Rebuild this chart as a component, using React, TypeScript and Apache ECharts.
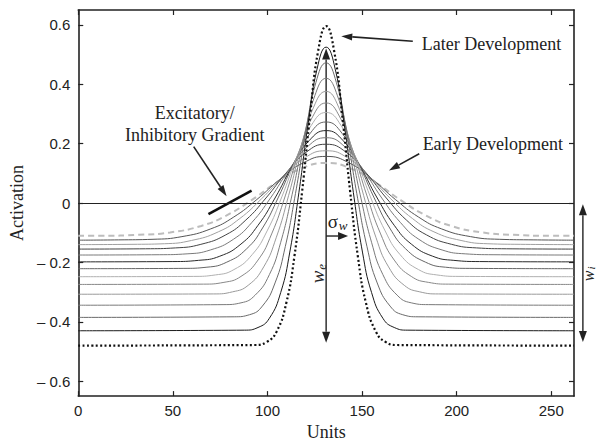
import React, { useEffect, useRef } from 'react';
import * as echarts from 'echarts';

const xTicks = [0, 50, 100, 150, 200, 250];
const yTicks = [-0.6, -0.4, -0.2, 0, 0.2, 0.4, 0.6];

// Activation profiles, from later development (first) to early development (last)
const curveX: number[][] = [
  [0, 93.2, 99.5, 104.8, 110, 114.2, 118.4, 122.6, 126.8, 131, 135.2, 139.4, 143.6, 147.8, 152, 157.3, 162.5, 168.8, 262],
  [0, 87.8, 95, 101, 107, 111.8, 116.6, 121.4, 126.2, 131, 135.8, 140.6, 145.4, 150.2, 155, 161, 167, 174.2, 262],
  [0, 82.4, 90.5, 97.3, 104, 109.4, 114.8, 120.2, 125.6, 131, 136.4, 141.8, 147.2, 152.6, 158, 164.8, 171.5, 179.6, 262],
  [0, 77, 86, 93.5, 101, 107, 113, 119, 125, 131, 137, 143, 149, 155, 161, 168.5, 176, 185, 262],
  [0, 71.6, 81.5, 89.8, 98, 104.6, 111.2, 117.8, 124.4, 131, 137.6, 144.2, 150.8, 157.4, 164, 172.3, 180.5, 190.4, 262],
  [0, 66.2, 77, 86, 95, 102.2, 109.4, 116.6, 123.8, 131, 138.2, 145.4, 152.6, 159.8, 167, 176, 185, 195.8, 262],
  [0, 60.8, 72.5, 82.3, 92, 99.8, 107.6, 115.4, 123.2, 131, 138.8, 146.6, 154.4, 162.2, 170, 179.8, 189.5, 201.2, 262],
  [0, 55.4, 68, 78.5, 89, 97.4, 105.8, 114.2, 122.6, 131, 139.4, 147.8, 156.2, 164.6, 173, 183.5, 194, 206.6, 262],
  [0, 50, 63.5, 74.8, 86, 95, 104, 113, 122, 131, 140, 149, 158, 167, 176, 187.3, 198.5, 212, 262],
  [0, 42.8, 57.5, 69.8, 82, 91.8, 101.6, 111.4, 121.2, 131, 140.8, 150.6, 160.4, 170.2, 180, 192.3, 204.5, 219.2, 262],
  [0, 35.6, 51.5, 64.8, 78, 88.6, 99.2, 109.8, 120.4, 131, 141.6, 152.2, 162.8, 173.4, 184, 197.3, 210.5, 226.4, 262],
  [0, 28.4, 45.5, 59.8, 74, 85.4, 96.8, 108.2, 119.6, 131, 142.4, 153.8, 165.2, 176.6, 188, 202.3, 216.5, 233.6, 262],
  [0, 21.2, 39.5, 54.8, 70, 82.2, 94.4, 106.6, 118.8, 131, 143.2, 155.4, 167.6, 179.8, 192, 207.3, 222.5, 240.8, 262],
  [0, 12.2, 32, 48.5, 65, 78.2, 91.4, 104.6, 117.8, 131, 144.2, 157.4, 170.6, 183.8, 197, 213.5, 230, 249.8, 262],
];

const curveY: number[][] = [
  [-0.48, -0.478, -0.468, -0.433, -0.335, -0.181, 0.044, 0.301, 0.513, 0.596, 0.513, 0.301, 0.044, -0.181, -0.335, -0.433, -0.468, -0.478, -0.48],
  [-0.43, -0.428, -0.419, -0.388, -0.301, -0.165, 0.035, 0.263, 0.451, 0.525, 0.451, 0.263, 0.035, -0.165, -0.301, -0.388, -0.419, -0.428, -0.43],
  [-0.385, -0.383, -0.376, -0.347, -0.269, -0.147, 0.032, 0.237, 0.406, 0.472, 0.406, 0.237, 0.032, -0.147, -0.269, -0.347, -0.376, -0.383, -0.385],
  [-0.344, -0.342, -0.336, -0.31, -0.241, -0.132, 0.028, 0.211, 0.361, 0.42, 0.361, 0.211, 0.028, -0.132, -0.241, -0.31, -0.336, -0.342, -0.344],
  [-0.307, -0.306, -0.299, -0.277, -0.215, -0.117, 0.026, 0.189, 0.323, 0.376, 0.323, 0.189, 0.026, -0.117, -0.215, -0.277, -0.299, -0.306, -0.307],
  [-0.274, -0.273, -0.267, -0.247, -0.192, -0.104, 0.024, 0.17, 0.29, 0.337, 0.29, 0.17, 0.024, -0.104, -0.192, -0.247, -0.267, -0.273, -0.274],
  [-0.248, -0.247, -0.242, -0.224, -0.173, -0.094, 0.021, 0.153, 0.262, 0.305, 0.262, 0.153, 0.021, -0.094, -0.173, -0.224, -0.242, -0.247, -0.248],
  [-0.221, -0.22, -0.216, -0.199, -0.154, -0.084, 0.02, 0.138, 0.235, 0.273, 0.235, 0.138, 0.02, -0.084, -0.154, -0.199, -0.216, -0.22, -0.221],
  [-0.198, -0.197, -0.193, -0.179, -0.138, -0.075, 0.017, 0.123, 0.21, 0.244, 0.21, 0.123, 0.017, -0.075, -0.138, -0.179, -0.193, -0.197, -0.198],
  [-0.175, -0.174, -0.171, -0.158, -0.122, -0.065, 0.017, 0.112, 0.19, 0.22, 0.19, 0.112, 0.017, -0.065, -0.122, -0.158, -0.171, -0.174, -0.175],
  [-0.155, -0.154, -0.151, -0.139, -0.107, -0.057, 0.017, 0.101, 0.171, 0.198, 0.171, 0.101, 0.017, -0.057, -0.107, -0.139, -0.151, -0.154, -0.155],
  [-0.14, -0.139, -0.137, -0.126, -0.097, -0.052, 0.014, 0.089, 0.152, 0.176, 0.152, 0.089, 0.014, -0.052, -0.097, -0.126, -0.137, -0.139, -0.14],
  [-0.125, -0.124, -0.122, -0.113, -0.087, -0.047, 0.012, 0.08, 0.135, 0.157, 0.135, 0.08, 0.012, -0.047, -0.087, -0.113, -0.122, -0.124, -0.125],
  [-0.11, -0.11, -0.107, -0.099, -0.077, -0.042, 0.009, 0.068, 0.116, 0.135, 0.116, 0.068, 0.009, -0.042, -0.077, -0.099, -0.107, -0.11, -0.11],
];

const curveColor = ['#111', '#1a1a1a', '#6a6a6a', '#7a7a7a', '#9a9a9a', '#888', '#b0b0b0', '#666', '#2a2a2a', '#7a7a7a', '#444', '#a0a0a0', '#555', '#bdbdbd'];

const SERIF = '"Liberation Serif", "Times New Roman", serif';
const SANS = '"Liberation Sans", Arial, sans-serif';
const INK = '#222';

function fmtY(v: number) {
  if (Math.abs(v) < 1e-9) return '0';
  if (v < 0) return '\u2013 ' + Math.abs(v).toFixed(1);
  return v.toFixed(1);
}

function arrowHead(h: number[], t: number[], len: number, wid: number) {
  const dx = h[0] - t[0];
  const dy = h[1] - t[1];
  const L = Math.hypot(dx, dy) || 1;
  const ux = dx / L;
  const uy = dy / L;
  const bx = h[0] - ux * len;
  const by = h[1] - uy * len;
  const px = -uy * wid / 2;
  const py = ux * wid / 2;
  return {
    base: [bx, by],
    el: {
      type: 'polygon',
      shape: { points: [[h[0], h[1]], [bx + px, by + py], [bx - px, by - py]] },
      style: { fill: INK },
      silent: true,
    },
  };
}

function arrow(t: number[], h: number[], double = false, lw = 1.5, len = 10, wid = 7) {
  const out: any[] = [];
  const a = arrowHead(h, t, len, wid);
  let start = t;
  if (double) {
    const b = arrowHead(t, h, len, wid);
    start = b.base;
    out.push(b.el);
  }
  out.push({
    type: 'line',
    shape: { x1: start[0], y1: start[1], x2: a.base[0], y2: a.base[1] },
    style: { stroke: INK, lineWidth: lw },
    silent: true,
  });
  out.push(a.el);
  return out;
}

function serifText(text: string, p: number[], size = 18, align = 'left', italic = false) {
  return {
    type: 'text',
    x: p[0],
    y: p[1],
    silent: true,
    style: {
      text,
      fill: INK,
      fontSize: size,
      fontFamily: SERIF,
      fontStyle: italic ? 'italic' : 'normal',
      align,
      verticalAlign: 'middle',
    },
  };
}

export default function App() {
  const ref = useRef<HTMLDivElement>(null);

  useEffect(() => {
    if (!ref.current) return;
    const chart = echarts.init(ref.current, null, { renderer: 'svg' });

    const axisLineStyle = { color: INK, width: 1.6 };
    const series: any[] = [];
    for (let i = curveX.length - 1; i >= 0; i--) {
      const isDotted = i === 0;
      const isDashed = i === curveX.length - 1;
      series.push({
        type: 'line',
        name: 'c' + i,
        data: curveX[i].map((x, j) => [x, curveY[i][j]]),
        symbol: 'none',
        smooth: 0.5,
        clip: true,
        z: 3 + (curveX.length - i),
        lineStyle: {
          color: curveColor[i],
          width: isDotted ? 2.2 : isDashed ? 2 : 1,
          type: isDotted ? [2, 2.4] : isDashed ? [6, 4] : 'solid',
        },
      });
    }
    series.push({
      type: 'line',
      data: [],
      symbol: 'none',
      markLine: {
        silent: true,
        symbol: ['none', 'none'],
        label: { show: false },
        lineStyle: { color: INK, width: 1, type: 'solid' },
        data: [{ yAxis: 0 }],
      },
    });

    const option: any = {
      animation: false,
      backgroundColor: '#fff',
      grid: { left: 76, right: 26, top: 10, bottom: 43 },
      xAxis: [
        {
          type: 'value', min: 0, max: 262, position: 'bottom',
          axisLine: { show: true, onZero: false, lineStyle: axisLineStyle },
          axisTick: { show: true, inside: true, length: 5, customValues: xTicks, lineStyle: { color: INK, width: 1.2 } },
          axisLabel: { customValues: xTicks, color: INK, fontSize: 15, fontFamily: SANS, margin: 7 },
          splitLine: { show: false },
          name: 'Units', nameLocation: 'middle', nameGap: 24,
          nameTextStyle: { color: INK, fontSize: 18, fontFamily: SERIF },
        },
        {
          type: 'value', min: 0, max: 262, position: 'top',
          axisLine: { show: true, onZero: false, lineStyle: axisLineStyle },
          axisTick: { show: true, inside: true, length: 5, customValues: xTicks, lineStyle: { color: INK, width: 1.2 } },
          axisLabel: { show: false },
          splitLine: { show: false },
        },
      ],
      yAxis: [
        {
          type: 'value', min: -0.65, max: 0.65, position: 'left',
          axisLine: { show: true, onZero: false, lineStyle: axisLineStyle },
          axisTick: { show: true, inside: true, length: 5, customValues: yTicks, lineStyle: { color: INK, width: 1.2 } },
          axisLabel: { customValues: yTicks, color: INK, fontSize: 15, fontFamily: SANS, margin: 8, formatter: fmtY },
          splitLine: { show: false },
          name: 'Activation', nameLocation: 'middle', nameGap: 48, nameRotate: 90,
          nameTextStyle: { color: INK, fontSize: 18, fontFamily: SERIF },
        },
        {
          type: 'value', min: -0.65, max: 0.65, position: 'right',
          axisLine: { show: true, onZero: false, lineStyle: axisLineStyle },
          axisTick: { show: true, inside: true, length: 5, customValues: yTicks, lineStyle: { color: INK, width: 1.2 } },
          axisLabel: { show: false },
          splitLine: { show: false },
        },
      ],
      series,
    };
    chart.setOption(option);

    const P = (x: number, y: number) => chart.convertToPixel({ gridIndex: 0 }, [x, y]) as number[];

    const g: any[] = [];
    // Later development
    g.push(...arrow(P(176.8, 0.545), P(139, 0.562), false, 1.6, 11, 7));
    g.push(serifText('Later Development', P(181.6, 0.537)));
    // Early development
    g.push(...arrow(P(180.2, 0.166), P(164.2, 0.11), false, 1.6, 11, 7));
    g.push(serifText('Early Development', P(182, 0.2)));
    // Excitatory / Inhibitory gradient
    g.push(serifText('Excitatory/', P(61.6, 0.302), 18, 'center'));
    g.push(serifText('Inhibitory Gradient', P(61.6, 0.228), 18, 'center'));
    g.push(...arrow(P(61, 0.19), P(78.4, 0.023), false, 1.6, 11, 7));
    const gb1 = P(68.8, -0.037);
    const gb2 = P(91.6, 0.042);
    g.push({ type: 'line', silent: true, shape: { x1: gb1[0], y1: gb1[1], x2: gb2[0], y2: gb2[1] }, style: { stroke: '#111', lineWidth: 2.6 } });
    // w_e vertical double arrow
    g.push(...arrow(P(131, -0.47), P(131, 0.52), true, 1.4, 11, 8));
    // sigma_w arrow
    g.push(...arrow(P(131, -0.111), P(142.6, -0.111), false, 1.4, 10, 8));
    const sp = P(136.6, -0.062);
    g.push(serifText('\u03c3', [sp[0] - 9, sp[1]], 19, 'left'));
    g.push(serifText('w', [sp[0] + 2, sp[1] + 4], 13, 'left', true));
    // w_e label (rotated)
    const wp = P(126.3, -0.235);
    g.push({
      type: 'group', x: wp[0], y: wp[1], rotation: Math.PI / 2, silent: true,
      children: [
        { type: 'text', x: -4, y: 0, style: { text: 'w', fill: INK, fontSize: 19, fontStyle: 'italic', fontFamily: SERIF, align: 'center', verticalAlign: 'middle' } },
        { type: 'text', x: 6, y: 4, style: { text: 'e', fill: INK, fontSize: 13, fontStyle: 'italic', fontFamily: SERIF, align: 'center', verticalAlign: 'middle' } },
      ],
    });
    // w_i outside on the right
    g.push(...arrow(P(266.7, -0.468), P(266.7, -0.004), true, 1.4, 11, 8));
    const ip = P(270.3, -0.235);
    g.push({
      type: 'group', x: ip[0], y: ip[1], rotation: Math.PI / 2, silent: true,
      children: [
        { type: 'text', x: -3, y: -1, style: { text: 'w', fill: INK, fontSize: 16, fontStyle: 'italic', fontFamily: SERIF, align: 'center', verticalAlign: 'middle' } },
        { type: 'text', x: 5, y: 1, style: { text: 'i', fill: INK, fontSize: 11, fontStyle: 'italic', fontFamily: SERIF, align: 'center', verticalAlign: 'middle' } },
      ],
    });

    chart.setOption({ graphic: g });

    return () => chart.dispose();
  }, []);

  return <div ref={ref} style={{ width: 600, height: 446, position: 'absolute', left: 0, top: 0, background: '#fff' }} />;
}
